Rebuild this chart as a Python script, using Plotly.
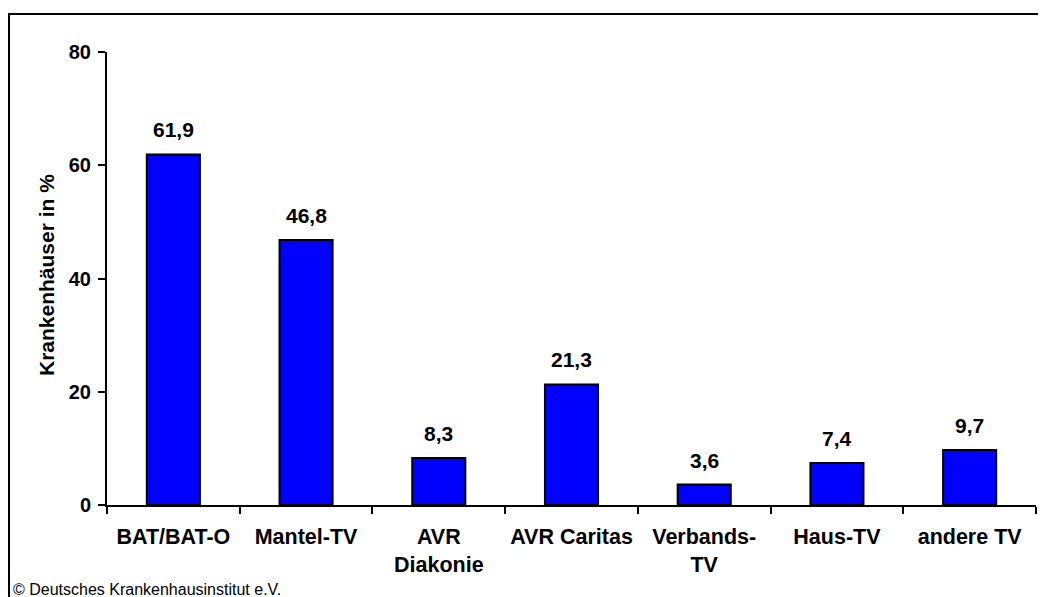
import plotly.graph_objects as go

categories = ["BAT/BAT-O", "Mantel-TV", "AVR<br>Diakonie", "AVR Caritas",
              "Verbands-<br>TV", "Haus-TV", "andere TV"]
values = [61.9, 46.8, 8.3, 21.3, 3.6, 7.4, 9.7]
value_labels = ["61,9", "46,8", "8,3", "21,3", "3,6", "7,4", "9,7"]
y_ticks = [0, 20, 40, 60, 80]

# the page body has an 8px margin, so page pixel p sits at figure pixel p - 8
OFF = 8
W, H = 1046, 597
L, R, T, B = 107 - OFF, 10 + OFF, 52 - OFF, 92 + OFF
PW, PH = W - L - R, H - T - B


def px(x):
    return (x - OFF - L) / PW


def py(y):
    return (H - B - (y - OFF)) / PH


FONT = "Liberation Sans, Arial, sans-serif"

fig = go.Figure(go.Bar(
    x=categories, y=values,
    marker=dict(color="#0000FF", line=dict(color="black", width=2)),
    hoverinfo="skip",
))

for cat, v, lab in zip(categories, values, value_labels):
    fig.add_annotation(x=cat, y=v, text="<b>%s</b>" % lab, showarrow=False,
                       xanchor="center", yanchor="bottom", yshift=11,
                       font=dict(family=FONT, size=21, color="black"))

# y axis title
fig.add_annotation(xref="paper", yref="paper", x=px(46), y=py(275),
                   xanchor="center", yanchor="middle",
                   text="<b>Krankenhäuser in %</b>", textangle=-90,
                   showarrow=False, font=dict(family=FONT, size=21, color="black"))

# source note
fig.add_annotation(xref="paper", yref="paper", x=px(11), y=py(589),
                   xanchor="left", yanchor="middle",
                   text="© Deutsches Krankenhausinstitut e.V.", showarrow=False,
                   font=dict(family=FONT, size=16, color="black"))

# outer frame
fig.add_shape(type="rect", xref="paper", yref="paper",
              x0=px(9), y0=py(660), x1=px(1120), y1=py(14),
              line=dict(color="black", width=2))

fig.update_layout(
    width=W, height=H,
    margin=dict(l=L, r=R, t=T, b=B),
    paper_bgcolor="white", plot_bgcolor="white",
    bargap=0.6, showlegend=False,
    font=dict(family=FONT, size=20, color="black"),
)
fig.update_xaxes(
    showline=True, linecolor="black", linewidth=2,
    ticks="outside", tickson="boundaries", ticklen=7, tickwidth=2,
    tickcolor="black", showgrid=False, ticklabelstandoff=11,
    tickfont=dict(family=FONT, size=21.5, color="black", weight="bold"),
)
fig.update_yaxes(
    range=[0, 80], tickvals=y_ticks, showline=True, linecolor="black",
    linewidth=2, ticks="outside", ticklen=7, tickwidth=2, tickcolor="black",
    showgrid=False, zeroline=False, ticklabelstandoff=3,
    tickfont=dict(family=FONT, size=20, color="black", weight="bold"),
)

fig.write_html("out.html")
